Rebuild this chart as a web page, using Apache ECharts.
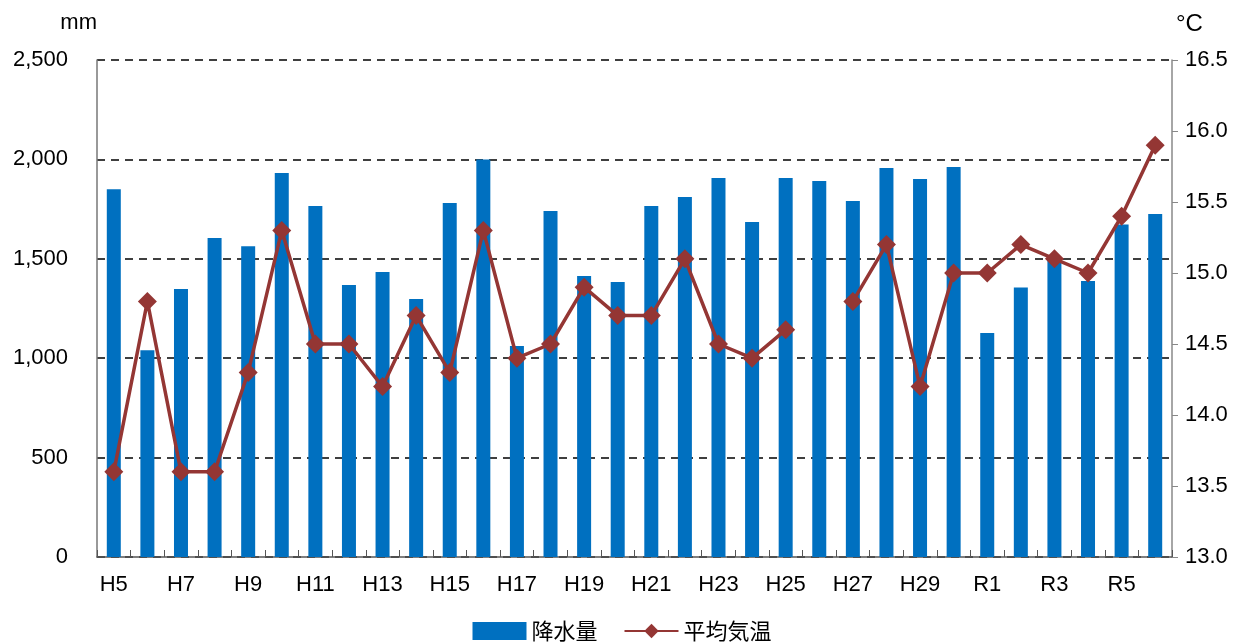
<!DOCTYPE html>
<html>
<head>
<meta charset="utf-8">
<script src="https://cdn.jsdelivr.net/npm/echarts@6/dist/echarts.min.js"></script>
<style>
  html, body { margin: 0; padding: 0; background: #fff; }
  #chart { width: 1244px; height: 644px; }
</style>
</head>
<body>
<div id="chart"></div>
<script>
// 年度ラベル
const years = [
  'H5','H6','H7','H8','H9','H10','H11','H12','H13','H14','H15','H16','H17','H18',
  'H19','H20','H21','H22','H23','H24','H25','H26','H27','H28','H29','H30',
  'R1','R2','R3','R4','R5','R6'
];

// 降水量 (mm)
const rainfall = [
  1850, 1040, 1348, 1605, 1563, 1932, 1766, 1368, 1434, 1298, 1781, 2000, 1061, 1740,
  1413, 1383, 1766, 1811, 1906, 1685, 1906, 1891, 1791, 1957, 1901, 1962,
  1127, 1356, 1494, 1388, 1673, 1725
];

// 平均気温 (°C) — H26 は欠測
const temperature = [
  13.6, 14.8, 13.6, 13.6, 14.3, 15.3, 14.5, 14.5, 14.2, 14.7, 14.3, 15.3, 14.4, 14.5,
  14.9, 14.7, 14.7, 15.1, 14.5, 14.4, 14.6, null, 14.8, 15.2, 14.2, 15.0,
  15.0, 15.2, 15.1, 15.0, 15.4, 15.9
];

const font = '"Liberation Sans", Arial, "Noto Sans CJK JP", sans-serif';

const chart = echarts.init(document.getElementById('chart'));

const option = {
  animation: false,
  textStyle: { fontFamily: font },
  grid: { left: 97, right: 72, top: 60, bottom: 87 },
  legend: {
    bottom: -3,
    left: 'center',
    itemGap: 26,
    textStyle: { fontSize: 22, color: '#000', fontFamily: '"Noto Sans CJK JP", sans-serif' },
    data: [
      { name: '降水量', icon: 'rect', itemWidth: 52, itemHeight: 12 },
      { name: '平均気温' }
    ],
    itemWidth: 54,
    itemHeight: 18
  },
  xAxis: {
    type: 'category',
    data: years,
    axisLine: { lineStyle: { color: '#555', width: 1.5 } },
    axisTick: { show: true, inside: true, length: 7, interval: 0, lineStyle: { color: '#555' } },
    axisLabel: { interval: 1, fontSize: 22, color: '#000', margin: 17 }
  },
  yAxis: [
    {
      type: 'value',
      name: 'mm',
      nameLocation: 'end',
      nameGap: 26,
      nameTextStyle: { fontSize: 22, color: '#000', align: 'right', padding: [0, 0, 0, 0] },
      min: 0, max: 2500, interval: 500,
      axisLine: { show: true, lineStyle: { color: '#777', width: 1.5 } },
      axisTick: { show: false },
      axisLabel: {
        fontSize: 22, color: '#000', margin: 29,
        formatter: v => v.toLocaleString('en-US')
      },
      splitLine: { show: true, lineStyle: { color: '#000', type: [8, 6], width: 1.5 } }
    },
    {
      type: 'value',
      name: '°C',
      nameLocation: 'end',
      nameGap: 24,
      nameTextStyle: { fontSize: 24, color: '#000', align: 'left', padding: [0, 0, 0, 4] },
      min: 13.0, max: 16.5, interval: 0.5,
      axisLine: { show: true, lineStyle: { color: '#888', width: 1.5 } },
      axisTick: { show: true, length: 6, lineStyle: { color: '#888' } },
      axisLabel: {
        fontSize: 22, color: '#000', margin: 13,
        formatter: v => v.toFixed(1)
      },
      splitLine: { show: false }
    }
  ],
  series: [
    {
      name: '降水量',
      type: 'bar',
      data: rainfall,
      barWidth: 14,
      itemStyle: { color: '#0070c0' },
      z: 1
    },
    {
      name: '平均気温',
      type: 'line',
      yAxisIndex: 1,
      data: temperature,
      connectNulls: false,
      symbol: 'diamond',
      symbolSize: 19,
      lineStyle: { color: '#943634', width: 3.5 },
      itemStyle: { color: '#943634' },
      z: 3
    }
  ]
};

option && chart.setOption(option);

window.addEventListener('resize', () => {
  chart.resize();
});
</script>
</body>
</html>
